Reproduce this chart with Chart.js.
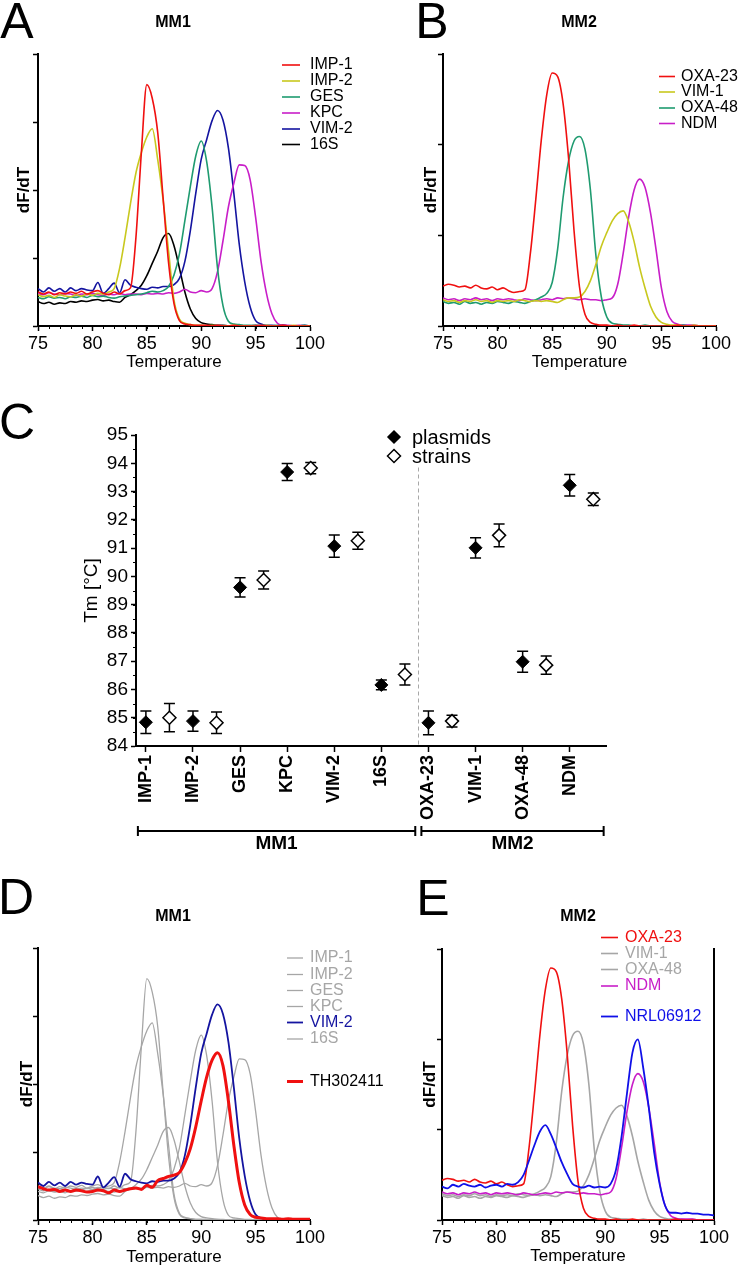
<!DOCTYPE html>
<html>
<head>
<meta charset="utf-8">
<script src="https://cdn.jsdelivr.net/npm/chart.js@4.4.1/dist/chart.umd.min.js"></script>
<style>
  body { margin: 0; background: #fff; }
  #page { position: relative; width: 742px; height: 1268px; overflow: hidden; font-family: "Liberation Sans", Arial, sans-serif; }
  canvas { position: absolute; }
  .lbl { position: absolute; transform: translate(-50%, -50%); line-height: 1; white-space: nowrap; color: #000; }
  .letter { font-size: 50px; }
  .title { font-size: 16px; font-weight: bold; }
</style>
</head>
<body>
<div id="page">
  <canvas id="chartD" width="420" height="388" style="left:0;top:880px"></canvas>
  <canvas id="chartE" width="371" height="388" style="left:371px;top:880px"></canvas>
  <canvas id="chartA" width="371" height="377" style="left:0;top:0"></canvas>
  <canvas id="chartB" width="371" height="377" style="left:371px;top:0"></canvas>
  <canvas id="chartC" width="742" height="500" style="left:0;top:380px"></canvas>

  <div class="lbl letter" style="left:17px;top:21px">A</div>
  <div class="lbl letter" style="left:432px;top:21px">B</div>
  <div class="lbl letter" style="left:17px;top:422px">C</div>
  <div class="lbl letter" style="left:16px;top:897px">D</div>
  <div class="lbl letter" style="left:433px;top:898px">E</div>
  <div class="lbl title" style="left:173px;top:22px">MM1</div>
  <div class="lbl title" style="left:579px;top:22px">MM2</div>
  <div class="lbl title" style="left:173px;top:916px">MM1</div>
  <div class="lbl title" style="left:578px;top:916px">MM2</div>
</div>

<script>
Chart.defaults.font.family = '"Liberation Sans", Arial, sans-serif';
Chart.defaults.color = "#000";

// melt curves, temperature every 0.5 degree
const temps = [
  75, 75.5, 76, 76.5, 77, 77.5, 78, 78.5, 79, 79.5,
  80, 80.5, 81, 81.5, 82, 82.5, 83, 83.5, 84, 84.5,
  85, 85.5, 86, 86.5, 87, 87.5, 88, 88.5, 89, 89.5,
  90, 90.5, 91, 91.5, 92, 92.5, 93, 93.5, 94, 94.5,
  95, 95.5, 96, 96.5, 97, 97.5, 98, 98.5, 99, 99.5,
  100,
];

// MM1 (panel A / D)
const imp1 = [
  .50, .47, .50, .46, .49, .47, .50, .48, .51, .47,
  .50, .52, .48, .46, .50, .47, .52, .56, 1.30, 2.55,
  3.55, 3.35, 2.85, 1.88, .93, .33, .08, .03, .02, .01,
  .01, .01, 0, .01, 0, 0, .01, 0, 0, 0,
  0, .01, 0, 0, 0, .01, 0, 0, 0, 0,
  0,
];
const imp2 = [
  .46, .43, .45, .42, .46, .44, .43, .46, .44, .47,
  .45, .48, .47, .50, .55, .85, 1.30, 1.80, 2.25, 2.55,
  2.78, 2.90, 2.45, 1.85, 1.10, .38, .10, .04, .02, .01,
  .01, 0, .01, 0, 0, 0, .01, 0, 0, 0,
  0, 0, .01, 0, 0, 0, 0, .01, 0, 0,
  0,
];
const ges = [
  .42, .40, .43, .41, .42, .40, .43, .42, .44, .42,
  .45, .43, .44, .42, .41, .43, .44, .45, .46, .47,
  .49, .51, .50, .52, .58, .75, 1.06, 1.55, 2.05, 2.50,
  2.72, 2.42, 1.75, .85, .30, .07, .03, .02, .01, .01,
  0, .01, 0, 0, .01, 0, 0, 0, 0, .01,
  0,
];
const kpc = [
  .48, .46, .49, .47, .46, .48, .47, .45, .47, .46,
  .48, .46, .45, .47, .46, .48, .46, .47, .47, .46,
  .48, .47, .48, .47, .49, .48, .50, .54, .50, .49,
  .52, .50, .55, .80, 1.25, 1.75, 2.10, 2.37, 2.36, 2.15,
  1.60, .95, .48, .18, .04, .01, .01, 0, .01, 0,
  0,
];
const vim2 = [
  .55, .50, .56, .51, .55, .50, .56, .52, .55, .53,
  .52, .64, .48, .55, .63, .49, .68, .60, .57, .55,
  .54, .57, .56, .58, .58, .61, .70, .95, 1.40, 1.95,
  2.45, 2.74, 3.02, 3.17, 3.03, 2.62, 1.95, 1.20, .65, .28,
  .08, .03, .01, .01, 0, .01, 0, 0, 0, .01,
  0,
];
const s16 = [
  .36, .33, .35, .32, .34, .33, .36, .35, .37, .36,
  .38, .39, .37, .38, .36, .35, .42, .46, .52, .60,
  .74, .92, 1.10, 1.30, 1.36, 1.18, .85, .50, .25, .11,
  .05, .03, .02, .01, .01, 0, 0, .01, 0, 0,
  .01, 0, 0, 0, 0, .01, 0, 0, 0, 0,
  0,
];

// MM2 (panel B / E)
const oxa23 = [
  .44, .46, .45, .43, .44, .42, .45, .42, .41, .43,
  .40, .42, .39, .37, .38, .40, .80, 1.40, 2.05, 2.55,
  2.79, 2.75, 2.45, 1.85, 1.05, .43, .13, .04, .02, .01,
  .01, 0, .01, 0, 0, .01, 0, 0, 0, 0,
  0, 0, 0, .01, 0, 0, 0, 0, 0, 0,
  0,
];
const vim1 = [
  .29, .27, .28, .26, .28, .27, .29, .27, .28, .26,
  .28, .27, .28, .27, .29, .28, .27, .28, .27, .28,
  .27, .26, .29, .31, .31, .32, .38, .50, .68, .88,
  1.03, 1.16, 1.24, 1.27, 1.15, .93, .65, .42, .22, .10,
  .04, .02, .01, .01, 0, 0, .01, 0, 0, 0,
  0,
];
const oxa48 = [
  .27, .25, .26, .24, .27, .25, .26, .24, .26, .25,
  .27, .26, .25, .27, .26, .25, .27, .29, .32, .36,
  .48, .85, 1.42, 1.82, 2.04, 2.09, 1.95, 1.50, .78, .32,
  .10, .03, .02, .01, .01, 0, 0, .01, 0, 0,
  0, 0, 0, 0, .01, 0, 0, 0, 0, 0,
  0,
];
const ndm = [
  .31, .29, .30, .28, .30, .29, .31, .29, .30, .28,
  .30, .29, .30, .29, .28, .30, .29, .28, .29, .30,
  .29, .31, .30, .31, .30, .29, .30, .29, .29, .28,
  .29, .31, .46, .80, 1.20, 1.50, 1.62, 1.53, 1.25, .85,
  .42, .16, .05, .02, .01, .01, .01, 0, 0, 0,
  0,
];

// clinical isolates
const th302411 = [
  .49, .46, .44, .45, .42, .44, .42, .44, .43, .41,
  .42, .44, .43, .40, .44, .42, .44, .46, .47, .45,
  .51, .48, .58, .61, .64, .66, .70, .84, 1.05, 1.37,
  1.75, 2.10, 2.35, 2.46, 2.27, 1.75, 1.10, .55, .22, .08,
  .04, .03, .02, .02, .02, .01, .02, .01, .01, .01,
  .01,
];
const nrl06912 = [
  .37, .35, .39, .37, .40, .38, .37, .39, .36, .38,
  .39, .37, .40, .39, .42, .50, .66, .83, .98, 1.05,
  .95, .80, .64, .51, .40, .37, .36, .38, .36, .37,
  .36, .40, .56, .92, 1.40, 1.85, 2.00, 1.68, 1.25, .75,
  .40, .16, .08, .08, .07, .08, .07, .07, .06, .06,
  .05,
];

// panel C: Tm mean and error
const categories = ["IMP-1", "IMP-2", "GES", "KPC", "VIM-2", "16S", "OXA-23", "VIM-1", "OXA-48", "NDM"];
const plasmidTm = [84.84, 84.88, 89.61, 93.69, 91.07, 86.16, 84.82, 91.01, 86.98, 93.22];
const plasmidErr = [0.40, 0.36, 0.34, 0.30, 0.39, 0.17, 0.42, 0.36, 0.37, 0.38];
const strainTm = [85.00, 84.82, 89.87, 93.83, 91.26, 86.53, 84.88, 91.45, 86.86, 92.73];
const strainErr = [0.50, 0.38, 0.32, 0.20, 0.30, 0.37, 0.21, 0.40, 0.32, 0.22];
const groups = ["MM1", "MM2"];

const RED = "#f01010", YELLOW = "#c8c81e", GREEN = "#1f9b70", MAGENTA = "#c81ec8";
const NAVY = "#1414a0", BLUE = "#1010e8", GREY = "#a6a6a6";

function curve(label, values, color, width, order) {
  return {
    label: label,
    data: temps.map((t, i) => ({ x: t, y: values[i] })),
    borderColor: color,
    borderWidth: width || 1.6,
    pointRadius: 0,
    cubicInterpolationMode: "monotone",
    fill: false,
    order: order || 0,
  };
}

// small ticks between the labelled ones
const minorTicks = {
  id: "minorTicks",
  afterDraw(chart, args, opts) {
    const ctx = chart.ctx;
    ctx.save();
    ctx.strokeStyle = "#000";
    ctx.lineWidth = 1;
    (opts.axes || []).forEach((a) => {
      const s = chart.scales[a.id];
      for (let v = s.min; v <= s.max + 1e-9; v += a.step) {
        const p = Math.round(s.getPixelForValue(v)) + 0.5;
        ctx.beginPath();
        if (s.isHorizontal()) {
          ctx.moveTo(p, s.top);
          ctx.lineTo(p, s.top + a.len);
        } else {
          ctx.moveTo(s.right, p);
          ctx.lineTo(s.right - a.len, p);
        }
        ctx.stroke();
      }
    });
    ctx.restore();
  },
};

// legend drawn beside the curves
const sideLegend = {
  id: "sideLegend",
  afterDraw(chart, args, opts) {
    if (!opts.items) return;
    const ctx = chart.ctx;
    ctx.save();
    ctx.font = "16px " + Chart.defaults.font.family;
    ctx.textBaseline = "middle";
    opts.items.forEach((it) => {
      const ds = chart.data.datasets[it.ds];
      ctx.strokeStyle = ds.borderColor;
      ctx.lineWidth = ds.borderWidth;
      ctx.beginPath();
      ctx.moveTo(opts.x, it.y);
      ctx.lineTo(opts.x + opts.len, it.y);
      ctx.stroke();
      ctx.fillStyle = it.color || "#000";
      ctx.fillText(ds.label, opts.textX, it.y);
    });
    ctx.restore();
  },
};

function meltChart(id, datasets, p) {
  const ctx = document.getElementById(id).getContext("2d");
  const scales = {
    x: {
      type: "linear",
      min: 75,
      max: 100,
      ticks: { stepSize: 5, font: { size: 18 }, color: "#000", padding: 2 },
      grid: { drawOnChartArea: false, tickLength: 5, tickColor: "#000", tickWidth: 1.5 },
      border: { color: "#000", width: 2 },
      title: { display: true, text: "Temperature", font: { size: 17 }, color: "#000", padding: { top: 0, bottom: p.xTitlePad } },
      afterFit: (s) => { s.height = p.xHeight; },
    },
    y: {
      min: 0,
      max: p.ymax,
      ticks: { stepSize: 1, callback: () => "" },
      grid: { drawOnChartArea: false, tickLength: 5, tickColor: "#000", tickWidth: 1.5 },
      border: { color: "#000", width: 2 },
      title: { display: true, text: "dF/dT", font: { size: 17, weight: "bold" }, color: "#000", padding: { top: p.yTitlePad, bottom: p.yTitlePad } },
      afterFit: (s) => { s.width = p.yWidth; },
    },
  };
  if (p.rightAxis) {
    scales.y2 = {
      position: "right",
      min: 0,
      max: p.ymax,
      ticks: { display: false },
      grid: { display: false },
      border: { color: "#000", width: 2 },
      afterFit: (s) => { s.width = 0; },
    };
  }
  return new Chart(ctx, {
    type: "line",
    data: { datasets: datasets },
    options: {
      responsive: false,
      animation: false,
      devicePixelRatio: 1,
      layout: { padding: p.padding },
      scales: scales,
      plugins: {
        legend: { display: false },
        tooltip: { enabled: false },
        minorTicks: { axes: [{ id: "x", step: 1, len: 3 }] },
        sideLegend: p.legend,
      },
    },
    plugins: [minorTicks, sideLegend],
  });
}

// A
meltChart("chartA", [
  curve("IMP-1", imp1, RED),
  curve("IMP-2", imp2, YELLOW),
  curve("GES", ges, GREEN),
  curve("KPC", kpc, MAGENTA),
  curve("VIM-2", vim2, NAVY),
  curve("16S", s16, "#000"),
], {
  ymax: 4, xHeight: 51, yWidth: 38, xTitlePad: 4, yTitlePad: 14,
  padding: { top: 54, right: 61, left: 0, bottom: 0 },
  legend: {
    x: 282, len: 18, textX: 310,
    items: [{ ds: 0, y: 65 }, { ds: 1, y: 81 }, { ds: 2, y: 97 }, { ds: 3, y: 113 }, { ds: 4, y: 129 }, { ds: 5, y: 144.5 }],
  },
});

// B
meltChart("chartB", [
  curve("OXA-23", oxa23, RED),
  curve("VIM-1", vim1, YELLOW),
  curve("OXA-48", oxa48, GREEN),
  curve("NDM", ndm, MAGENTA),
], {
  ymax: 3, xHeight: 51, yWidth: 25, xTitlePad: 4, yTitlePad: 3,
  padding: { top: 54, right: 26, left: 47, bottom: 0 },
  legend: {
    x: 288, len: 16, textX: 310,
    items: [{ ds: 0, y: 76.5 }, { ds: 1, y: 92 }, { ds: 2, y: 108 }, { ds: 3, y: 123.5 }],
  },
});

// D
meltChart("chartD", [
  curve("IMP-1", imp1, GREY, 1.3, 2),
  curve("IMP-2", imp2, GREY, 1.3, 2),
  curve("GES", ges, GREY, 1.3, 2),
  curve("KPC", kpc, GREY, 1.3, 2),
  curve("VIM-2", vim2, NAVY, 1.8, 1),
  curve("16S", s16, GREY, 1.3, 2),
  curve("TH302411", th302411, RED, 3, 0),
], {
  ymax: 4, xHeight: 48, yWidth: 38, xTitlePad: 0, yTitlePad: 17,
  padding: { top: 68, right: 110, left: 0, bottom: 0 },
  legend: {
    x: 287, len: 16, textX: 310,
    items: [
      { ds: 0, y: 78, color: GREY }, { ds: 1, y: 94.5, color: GREY }, { ds: 2, y: 110.5, color: GREY },
      { ds: 3, y: 126.5, color: GREY }, { ds: 4, y: 142.5, color: NAVY }, { ds: 5, y: 159, color: GREY },
      { ds: 6, y: 201.5 },
    ],
  },
});

// E
meltChart("chartE", [
  curve("OXA-23", oxa23, RED, 1.6, 1),
  curve("VIM-1", vim1, GREY, 1.6, 3),
  curve("OXA-48", oxa48, GREY, 1.6, 3),
  curve("NDM", ndm, MAGENTA, 1.6, 2),
  curve("NRL06912", nrl06912, BLUE, 1.8, 0),
], {
  ymax: 3, xHeight: 48, yWidth: 25, xTitlePad: 1, yTitlePad: 3, rightAxis: true,
  padding: { top: 69, right: 28, left: 46, bottom: 0 },
  legend: {
    x: 230, len: 17, textX: 254,
    items: [
      { ds: 0, y: 57.5, color: RED }, { ds: 1, y: 73.5, color: GREY }, { ds: 2, y: 89.5, color: GREY },
      { ds: 3, y: 106, color: MAGENTA }, { ds: 4, y: 136.5, color: BLUE },
    ],
  },
});

// C: error bars, separator, legend and group brackets
const tmDecor = {
  id: "tmDecor",
  beforeDatasetsDraw(chart) {
    const ctx = chart.ctx;
    const ys = chart.scales.y;
    ctx.save();
    ctx.strokeStyle = "#000";
    ctx.lineWidth = 1.5;
    chart.data.datasets.forEach((ds, di) => {
      chart.getDatasetMeta(di).data.forEach((pt, j) => {
        const v = ds.data[j].y, e = ds.errorBars[j];
        const t = ys.getPixelForValue(v + e), b = ys.getPixelForValue(v - e);
        ctx.beginPath();
        ctx.moveTo(pt.x, t); ctx.lineTo(pt.x, b);
        ctx.moveTo(pt.x - 5.5, t); ctx.lineTo(pt.x + 5.5, t);
        ctx.moveTo(pt.x - 5.5, b); ctx.lineTo(pt.x + 5.5, b);
        ctx.stroke();
      });
    });
    ctx.restore();
  },
  afterDraw(chart, args, opts) {
    const ctx = chart.ctx;
    const xs = chart.scales.x, ys = chart.scales.y;
    ctx.save();
    // dashed separator between the two multiplexes
    const sx = Math.round(xs.getPixelForValue(opts.split)) + 0.5;
    ctx.strokeStyle = "#a8a8a8";
    ctx.lineWidth = 1;
    ctx.setLineDash([4, 3]);
    ctx.beginPath();
    ctx.moveTo(sx, ys.getPixelForValue(opts.splitTop));
    ctx.lineTo(sx, ys.getPixelForValue(84) - 1);
    ctx.stroke();
    ctx.setLineDash([]);

    // legend
    ctx.font = "20px " + Chart.defaults.font.family;
    ctx.textBaseline = "middle";
    chart.data.datasets.forEach((ds, di) => {
      const y = opts.legendY[di], x = opts.legendX;
      const r = di === 0 ? 6 : 6.5;
      ctx.beginPath();
      ctx.moveTo(x, y - r); ctx.lineTo(x + r, y); ctx.lineTo(x, y + r); ctx.lineTo(x - r, y); ctx.closePath();
      ctx.fillStyle = ds.backgroundColor;
      ctx.fill();
      ctx.strokeStyle = "#000";
      ctx.lineWidth = 1.5;
      ctx.stroke();
      ctx.fillStyle = "#000";
      ctx.fillText(ds.label, opts.legendTextX, y + 1);
    });

    // group brackets
    const by = chart.chartArea.bottom + opts.bracketGap;
    ctx.lineWidth = 2;
    ctx.font = "bold 19px " + Chart.defaults.font.family;
    ctx.textAlign = "center";
    groups.forEach((g, k) => {
      const x0 = xs.getPixelForValue(opts.spans[k][0]);
      const x1 = xs.getPixelForValue(opts.spans[k][1]);
      ctx.beginPath();
      ctx.moveTo(x0, by); ctx.lineTo(x1, by);
      ctx.moveTo(x0, by - 5); ctx.lineTo(x0, by + 5);
      ctx.moveTo(x1, by - 5); ctx.lineTo(x1, by + 5);
      ctx.stroke();
      ctx.fillText(g, (x0 + x1) / 2, by + 13);
    });
    ctx.restore();
  },
};

new Chart(document.getElementById("chartC").getContext("2d"), {
  type: "scatter",
  data: {
    datasets: [
      {
        label: "plasmids",
        data: categories.map((c, i) => ({ x: i, y: plasmidTm[i] })),
        errorBars: plasmidErr,
        pointStyle: "rectRot",
        pointRadius: 6.5,
        backgroundColor: "#000",
        borderColor: "#000",
        borderWidth: 1,
      },
      {
        label: "strains",
        data: categories.map((c, i) => ({ x: i + 0.5, y: strainTm[i] })),
        errorBars: strainErr,
        pointStyle: "rectRot",
        pointRadius: 6.5,
        backgroundColor: "#fff",
        borderColor: "#000",
        borderWidth: 1.5,
      },
    ],
  },
  options: {
    responsive: false,
    animation: false,
    devicePixelRatio: 1,
    layout: { padding: { top: 55, right: 136, left: 77, bottom: 0 } },
    scales: {
      x: {
        type: "linear",
        min: -0.21,
        max: 9.77,
        afterBuildTicks: (s) => { s.ticks = categories.map((c, i) => ({ value: i })); },
        ticks: {
          callback: (v) => categories[v],
          font: { size: 18, weight: "bold" },
          color: "#000",
          minRotation: 90,
          maxRotation: 90,
          autoSkip: false,
          padding: 3,
        },
        grid: { drawOnChartArea: false, tickLength: 6, tickColor: "#000", tickWidth: 1.5 },
        border: { color: "#000", width: 2 },
        afterFit: (s) => { s.height = 134; },
      },
      y: {
        min: 84,
        max: 95,
        ticks: { stepSize: 1, font: { size: 19 }, color: "#000", padding: 3 },
        grid: { drawOnChartArea: false, tickLength: 5, tickColor: "#000", tickWidth: 1.5 },
        border: { color: "#000", width: 2 },
        title: { display: true, text: "Tm [°C]", font: { size: 19 }, color: "#000", padding: { top: 3, bottom: 3 } },
        afterFit: (s) => { s.width = 59; },
      },
    },
    plugins: {
      legend: { display: false },
      tooltip: { enabled: false },
      minorTicks: { axes: [{ id: "y", step: 0.5, len: 3 }] },
      tmDecor: {
        split: 5.77,
        splitTop: 93.85,
        legendX: 394,
        legendTextX: 412,
        legendY: [57, 76],
        bracketGap: 85,
        spans: [[-0.17, 5.72], [5.85, 9.72]],
      },
    },
  },
  plugins: [minorTicks, tmDecor],
});
</script>
</body>
</html>
